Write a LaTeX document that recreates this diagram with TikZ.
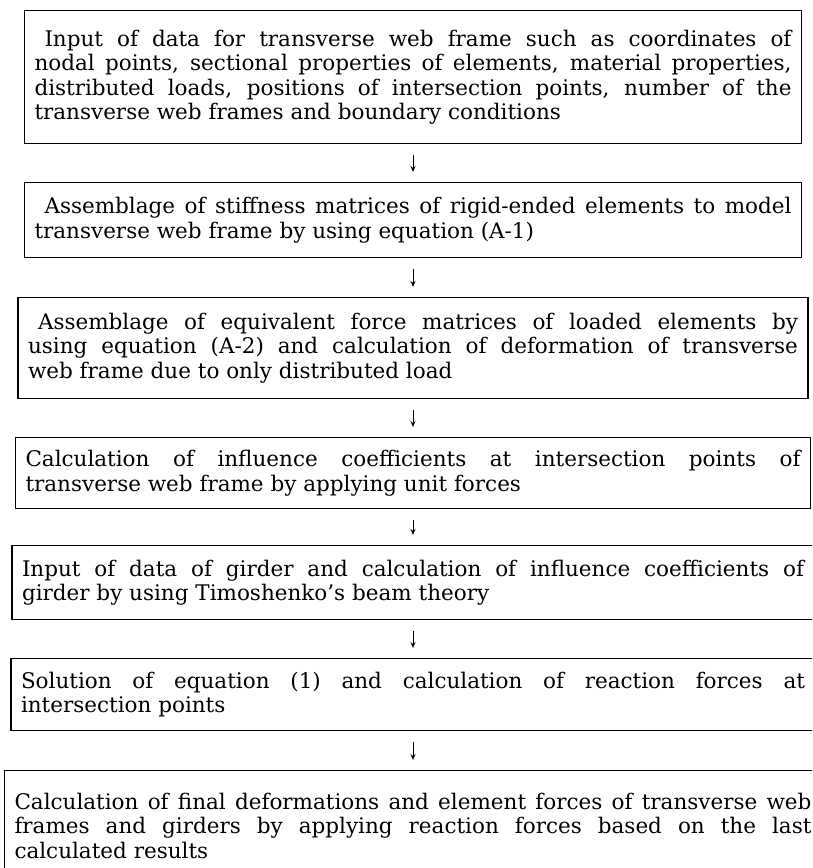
\documentclass[tikz,border=0pt]{standalone}
\usepackage{fontspec}
\setmainfont{DejaVu Serif}
\usetikzlibrary{arrows.meta}
\tolerance=9999
\hbadness=10000
\hyphenpenalty=10000
\tikzset{
  stepbox/.style={rectangle, draw=black, line width=1.4pt, anchor=north,
                  inner xsep=10pt, inner ysep=0pt, align=justify,
                  font=\fontsize{21.5}{24.5}\selectfont},
  flowarr/.style={-{Stealth[length=6pt, width=5pt]}, line width=1pt,
                  shorten <=11pt, shorten >=10pt},
}

\begin{document}
\begin{tikzpicture}[x=1pt, y=-1pt]
  \clip (0,0) rectangle (812,868);

  % Input of frame data — top
  \node[stepbox, text width=757pt, minimum height=133pt] (b1) at (413,10)
    {\hspace*{10pt}Input of data for transverse web frame such as coordinates of \linebreak
     nodal points, sectional properties of elements, material properties, \linebreak
     distributed loads, positions of intersection points, number of the \linebreak
     transverse web frames and boundary conditions};

  % Stiffness matrices
  \node[stepbox, text width=757pt, minimum height=75pt] (b2) at (413,182)
    {\hspace*{10pt}Assemblage of stiffness matrices of rigid-ended elements to model \linebreak
     transverse web frame by using equation (A-1)};

  % Force matrices and deformation
  \node[stepbox, text width=770pt, minimum height=101pt] (b3) at (413,297)
    {\hspace*{10pt}Assemblage of equivalent force matrices of loaded elements by \linebreak
     using equation (A-2) and calculation of deformation of transverse \linebreak
     web frame due to only distributed load};

  % Influence coefficients of frame
  \node[stepbox, text width=775pt, minimum height=71pt] (b4) at (413,437)
    {Calculation of influence coefficients at intersection points of \linebreak
     transverse web frame by applying unit forces};

  % Girder data
  \node[stepbox, text width=782pt, minimum height=74pt] (b5) at (413,545)
    {Input of data of girder and calculation of influence coefficients of \linebreak
     girder by using Timoshenko's beam theory};

  % Reaction forces
  \node[stepbox, text width=784pt, minimum height=72pt] (b6) at (413,658)
    {Solution of equation (1) and calculation of reaction forces at \linebreak
     intersection points};

  % Final results — runs off the bottom
  \node[stepbox, text width=797pt, minimum height=110pt] (b7) at (413,770)
    {Calculation of final deformations and element forces of transverse web \linebreak
     frames and girders by applying reaction forces based on the last \linebreak
     calculated results};

  % Arrows
  \draw[flowarr] (b1) -- (b2);
  \draw[flowarr] (b2) -- (b3);
  \draw[flowarr] (b3) -- (b4);
  \draw[flowarr] (b4) -- (b5);
  \draw[flowarr] (b5) -- (b6);
  \draw[flowarr] (b6) -- (b7);
\end{tikzpicture}
\end{document}
